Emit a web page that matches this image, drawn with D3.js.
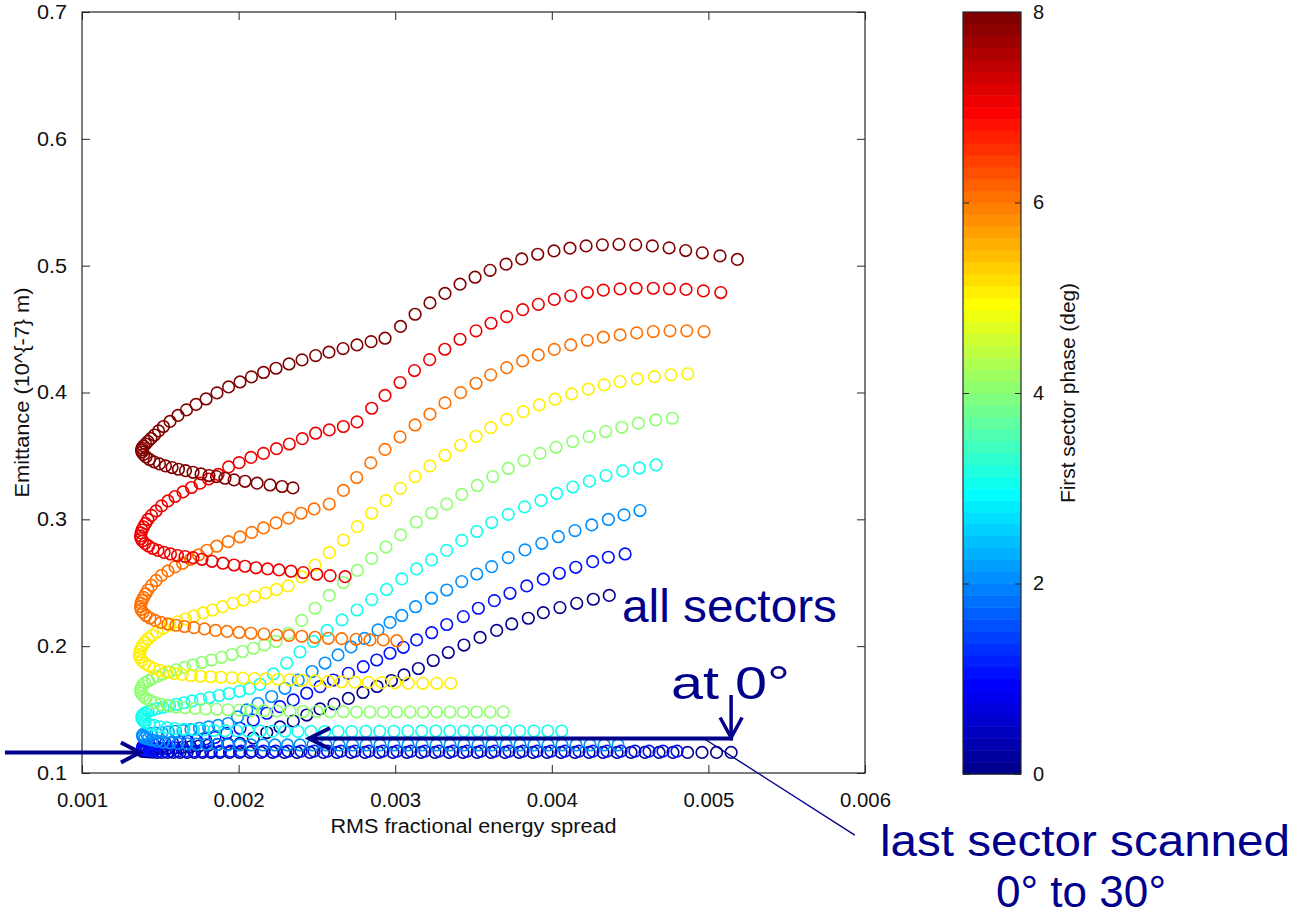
<!DOCTYPE html>
<html>
<head>
<meta charset="utf-8">
<script src="https://cdn.jsdelivr.net/npm/d3@7/dist/d3.min.js"></script>
<style>
  html, body { margin: 0; padding: 0; background: #fff; }
  svg { display: block; font-family: "Liberation Sans", Arial, Helvetica, sans-serif; }
</style>
</head>
<body>
<svg id="chart" width="1299" height="915"></svg>
<script>
// First sector phase (deg) for each scan of the last sector (0 to 30 deg).
const phases = [0, 1, 2, 3, 4, 5, 6, 7, 8];

// Scan points: [RMS fractional energy spread, emittance (1e-7 m)]
const scan0 = [
  [0.005145,0.1162],[0.005052,0.1162],[0.004959,0.1162],[0.004867,0.1162],[0.004774,0.1162],[0.004685,0.1162],
  [0.004595,0.1162],[0.004506,0.1162],[0.004417,0.1162],[0.004327,0.1162],[0.004238,0.1162],[0.004148,0.1162],
  [0.004059,0.1162],[0.003970,0.1162],[0.003880,0.1162],[0.003791,0.1162],[0.003701,0.1162],[0.003612,0.1162],
  [0.003523,0.1162],[0.003433,0.1162],[0.003344,0.1162],[0.003254,0.1162],[0.003165,0.1162],[0.003075,0.1162],
  [0.002986,0.1162],[0.002897,0.1162],[0.002807,0.1162],[0.002718,0.1162],[0.002628,0.1162],[0.002542,0.1162],
  [0.002456,0.1162],[0.002373,0.1162],[0.002293,0.1162],[0.002217,0.1162],[0.002143,0.1162],[0.002073,0.1162],
  [0.002006,0.1162],[0.001942,0.1162],[0.001881,0.1162],[0.001824,0.1162],[0.001770,0.1162],[0.001718,0.1162],
  [0.001671,0.1162],[0.001626,0.1162],[0.001584,0.1162],[0.001546,0.1162],[0.001511,0.1162],[0.001479,0.1162],
  [0.001450,0.1164],[0.001425,0.1166],[0.001406,0.1168],[0.001393,0.1170],
  [0.001383,0.1173],[0.001383,0.1177],[0.001393,0.1183],
  [0.001412,0.1185],[0.001437,0.1187],[0.001469,0.1189],[0.001508,0.1192],[0.001549,0.1195],[0.001594,0.1199],
  [0.001642,0.1203],[0.001693,0.1207],[0.001747,0.1213],[0.001805,0.1218],[0.001865,0.1225],[0.001932,0.1229],
  [0.002009,0.1233],[0.002094,0.1276],[0.002180,0.1319],[0.002264,0.1363],[0.002349,0.1410],[0.002435,0.1457],
  [0.002520,0.1505],[0.002609,0.1544],[0.002701,0.1588],[0.002794,0.1635],[0.002884,0.1682],[0.002976,0.1729],
  [0.003056,0.1773],[0.003148,0.1824],[0.003243,0.1887],[0.003339,0.1950],[0.003439,0.2009],[0.003542,0.2069],
  [0.003648,0.2124],[0.003744,0.2175],[0.003850,0.2220],[0.003946,0.2264],[0.004052,0.2304],[0.004159,0.2338],
  [0.004265,0.2370],[0.004367,0.2400]
];
const scan1 = [
  [0.004800,0.1172],[0.004710,0.1172],[0.004621,0.1172],[0.004531,0.1172],[0.004442,0.1172],[0.004353,0.1172],
  [0.004263,0.1172],[0.004174,0.1172],[0.004084,0.1172],[0.003995,0.1172],[0.003906,0.1172],[0.003816,0.1172],
  [0.003727,0.1172],[0.003637,0.1172],[0.003548,0.1172],[0.003459,0.1172],[0.003369,0.1172],[0.003280,0.1172],
  [0.003190,0.1172],[0.003101,0.1172],[0.003012,0.1172],[0.002922,0.1172],[0.002833,0.1172],[0.002743,0.1172],
  [0.002654,0.1172],[0.002568,0.1172],[0.002482,0.1172],[0.002399,0.1172],[0.002316,0.1172],[0.002236,0.1172],
  [0.002159,0.1172],[0.002086,0.1172],[0.002015,0.1172],[0.001948,0.1172],[0.001884,0.1172],[0.001824,0.1172],
  [0.001766,0.1172],[0.001712,0.1172],[0.001661,0.1172],[0.001613,0.1172],[0.001568,0.1172],[0.001530,0.1172],
  [0.001495,0.1172],[0.001463,0.1175],[0.001437,0.1178],[0.001415,0.1182],[0.001399,0.1187],
  [0.001390,0.1191],[0.001386,0.1201],[0.001390,0.1213],
  [0.001406,0.1218],[0.001428,0.1222],[0.001457,0.1226],[0.001492,0.1230],[0.001533,0.1234],[0.001578,0.1239],
  [0.001626,0.1244],[0.001677,0.1251],[0.001731,0.1259],[0.001789,0.1268],[0.001849,0.1280],[0.001924,0.1313],
  [0.002009,0.1353],[0.002094,0.1418],[0.002180,0.1471],[0.002264,0.1523],[0.002349,0.1576],[0.002435,0.1629],
  [0.002520,0.1681],[0.002605,0.1733],[0.002701,0.1786],[0.002796,0.1838],[0.002882,0.1891],[0.002967,0.1944],
  [0.003052,0.1991],[0.003137,0.2049],[0.003233,0.2106],[0.003329,0.2171],[0.003435,0.2233],[0.003531,0.2299],
  [0.003633,0.2359],[0.003733,0.2417],[0.003840,0.2475],[0.003946,0.2528],[0.004048,0.2575],[0.004153,0.2622],
  [0.004261,0.2666],[0.004361,0.2701],[0.004468,0.2727]
];
const scan2 = [
  [0.004423,0.1221],[0.004334,0.1221],[0.004244,0.1221],[0.004155,0.1221],[0.004065,0.1221],[0.003976,0.1221],
  [0.003886,0.1221],[0.003797,0.1221],[0.003708,0.1221],[0.003618,0.1221],[0.003529,0.1221],[0.003439,0.1221],
  [0.003350,0.1221],[0.003261,0.1221],[0.003171,0.1221],[0.003082,0.1221],[0.002992,0.1221],[0.002903,0.1221],
  [0.002814,0.1221],[0.002727,0.1221],[0.002641,0.1221],[0.002558,0.1221],[0.002475,0.1221],[0.002392,0.1221],
  [0.002312,0.1221],[0.002232,0.1221],[0.002156,0.1221],[0.002079,0.1221],[0.002006,0.1221],[0.001932,0.1222],
  [0.001862,0.1224],[0.001795,0.1226],[0.001731,0.1227],[0.001671,0.1230],[0.001613,0.1233],[0.001562,0.1238],
  [0.001517,0.1244],[0.001479,0.1252],[0.001447,0.1260],[0.001421,0.1268],
  [0.001402,0.1276],[0.001390,0.1284],[0.001386,0.1296],[0.001390,0.1304],
  [0.001415,0.1308],[0.001441,0.1311],[0.001473,0.1315],[0.001511,0.1319],[0.001552,0.1323],[0.001597,0.1329],
  [0.001645,0.1335],[0.001696,0.1343],[0.001750,0.1353],[0.001808,0.1363],[0.001869,0.1375],[0.001932,0.1390],
  [0.001993,0.1442],[0.002052,0.1497],[0.002124,0.1548],[0.002211,0.1603],[0.002296,0.1668],[0.002381,0.1733],
  [0.002469,0.1800],[0.002552,0.1867],[0.002635,0.1931],[0.002718,0.1994],[0.002804,0.2061],[0.002890,0.2128],
  [0.002967,0.2187],[0.003042,0.2242],[0.003130,0.2311],[0.003232,0.2378],[0.003329,0.2443],[0.003425,0.2509],
  [0.003521,0.2569],[0.003616,0.2627],[0.003722,0.2698],[0.003829,0.2759],[0.003936,0.2811],[0.004042,0.2863],
  [0.004148,0.2911],[0.004255,0.2956],[0.004361,0.2999],[0.004461,0.3035],[0.004563,0.3069]
];
const scan3 = [
  [0.004063,0.1331],[0.003974,0.1331],[0.003885,0.1331],[0.003795,0.1331],[0.003706,0.1331],[0.003616,0.1331],
  [0.003527,0.1331],[0.003438,0.1331],[0.003348,0.1331],[0.003259,0.1331],[0.003169,0.1331],[0.003080,0.1331],
  [0.002991,0.1329],[0.002901,0.1329],[0.002812,0.1329],[0.002722,0.1327],[0.002635,0.1327],[0.002549,0.1327],
  [0.002462,0.1327],[0.002379,0.1327],[0.002296,0.1329],[0.002217,0.1330],[0.002137,0.1331],[0.002060,0.1331],
  [0.001987,0.1333],[0.001913,0.1334],[0.001843,0.1336],[0.001776,0.1338],[0.001712,0.1341],[0.001651,0.1345],
  [0.001594,0.1350],[0.001543,0.1356],[0.001498,0.1364],[0.001460,0.1375],[0.001428,0.1386],[0.001402,0.1400],
  [0.001390,0.1414],[0.001383,0.1430],[0.001383,0.1446],[0.001390,0.1461],
  [0.001402,0.1473],[0.001421,0.1485],[0.001447,0.1497],[0.001479,0.1507],[0.001517,0.1518],[0.001559,0.1530],
  [0.001603,0.1542],[0.001651,0.1554],[0.001702,0.1568],[0.001757,0.1581],[0.001814,0.1595],[0.001875,0.1611],
  [0.001939,0.1627],[0.002006,0.1644],[0.002070,0.1665],[0.002137,0.1699],[0.002222,0.1781],[0.002307,0.1867],
  [0.002392,0.1954],[0.002477,0.2037],[0.002565,0.2124],[0.002660,0.2207],[0.002756,0.2285],[0.002850,0.2367],
  [0.002945,0.2447],[0.003042,0.2530],[0.003136,0.2609],[0.003232,0.2680],[0.003329,0.2755],[0.003425,0.2834],
  [0.003521,0.2904],[0.003616,0.2975],[0.003722,0.3039],[0.003826,0.3098],[0.003931,0.3149],[0.004031,0.3204],
  [0.004134,0.3255],[0.004240,0.3301],[0.004346,0.3345],[0.004453,0.3382],[0.004559,0.3405],[0.004666,0.3429]
];
const scan4 = [
  [0.003690,0.1481],[0.003606,0.1481],[0.003521,0.1481],[0.003435,0.1481],[0.003350,0.1481],[0.003265,0.1481],
  [0.003180,0.1481],[0.003095,0.1481],[0.003010,0.1481],[0.002924,0.1481],[0.002839,0.1481],[0.002754,0.1481],
  [0.002669,0.1483],[0.002584,0.1483],[0.002499,0.1485],[0.002413,0.1485],[0.002328,0.1487],[0.002245,0.1489],
  [0.002162,0.1491],[0.002082,0.1494],[0.002006,0.1496],[0.001932,0.1498],[0.001860,0.1502],[0.001789,0.1505],
  [0.001722,0.1509],[0.001658,0.1514],[0.001600,0.1520],[0.001549,0.1530],[0.001504,0.1542],[0.001466,0.1556],
  [0.001434,0.1572],[0.001409,0.1589],[0.001390,0.1609],
  [0.001377,0.1631],[0.001374,0.1651],[0.001377,0.1670],[0.001386,0.1690],
  [0.001402,0.1710],[0.001425,0.1727],[0.001450,0.1745],[0.001482,0.1763],[0.001517,0.1779],[0.001559,0.1796],
  [0.001603,0.1814],[0.001655,0.1832],[0.001709,0.1852],[0.001766,0.1871],[0.001827,0.1891],[0.001891,0.1912],
  [0.001958,0.1934],[0.002025,0.1958],[0.002095,0.1983],[0.002165,0.2009],[0.002239,0.2037],[0.002317,0.2102],
  [0.002403,0.2203],[0.002488,0.2299],[0.002579,0.2400],[0.002669,0.2502],[0.002758,0.2597],[0.002850,0.2692],
  [0.002941,0.2782],[0.003035,0.2877],[0.003135,0.2979],[0.003233,0.3050],[0.003329,0.3121],[0.003425,0.3196],
  [0.003524,0.3267],[0.003623,0.3337],[0.003722,0.3401],[0.003823,0.3463],[0.003925,0.3520],[0.004027,0.3568],
  [0.004134,0.3613],[0.004238,0.3652],[0.004344,0.3692],[0.004447,0.3726],[0.004553,0.3758],[0.004664,0.3784],
  [0.004770,0.3797]
];
const scan5 = [
  [0.003355,0.1707],[0.003265,0.1707],[0.003176,0.1707],[0.003084,0.1708],[0.002999,0.1711],[0.002914,0.1712],
  [0.002828,0.1714],[0.002743,0.1716],[0.002658,0.1719],[0.002573,0.1722],[0.002488,0.1726],[0.002405,0.1731],
  [0.002328,0.1735],[0.002252,0.1739],[0.002175,0.1743],[0.002102,0.1745],[0.002028,0.1748],[0.001958,0.1751],
  [0.001888,0.1755],[0.001821,0.1759],[0.001757,0.1763],[0.001696,0.1769],[0.001639,0.1777],[0.001588,0.1786],
  [0.001540,0.1796],[0.001498,0.1808],[0.001460,0.1824],[0.001428,0.1844],[0.001402,0.1864],[0.001383,0.1887],
  [0.001370,0.1911],[0.001367,0.1934],[0.001370,0.1958],[0.001377,0.1982],[0.001386,0.2005],
  [0.001402,0.2031],[0.001421,0.2057],[0.001447,0.2084],[0.001479,0.2112],[0.001517,0.2141],[0.001562,0.2167],
  [0.001610,0.2192],[0.001661,0.2214],[0.001715,0.2238],[0.001773,0.2262],[0.001833,0.2285],[0.001897,0.2311],
  [0.001964,0.2338],[0.002031,0.2364],[0.002102,0.2392],[0.002172,0.2419],[0.002242,0.2447],[0.002317,0.2475],
  [0.002403,0.2546],[0.002488,0.2640],[0.002579,0.2737],[0.002669,0.2837],[0.002758,0.2942],[0.002850,0.3048],
  [0.002941,0.3147],[0.003033,0.3244],[0.003127,0.3337],[0.003222,0.3421],[0.003318,0.3505],[0.003418,0.3584],
  [0.003516,0.3655],[0.003610,0.3723],[0.003712,0.3788],[0.003818,0.3849],[0.003920,0.3902],[0.004021,0.3947],
  [0.004127,0.3989],[0.004233,0.4026],[0.004334,0.4060],[0.004436,0.4086],[0.004546,0.4107],[0.004655,0.4125],
  [0.004761,0.4139],[0.004868,0.4147]
];
const scan6 = [
  [0.003010,0.2043],[0.002924,0.2049],[0.002839,0.2049],[0.002750,0.2054],[0.002658,0.2059],[0.002573,0.2062],
  [0.002488,0.2070],[0.002403,0.2078],[0.002322,0.2084],[0.002243,0.2088],[0.002162,0.2096],[0.002079,0.2102],
  [0.002003,0.2108],[0.001926,0.2116],[0.001853,0.2124],[0.001782,0.2136],[0.001715,0.2146],[0.001655,0.2155],
  [0.001600,0.2165],[0.001549,0.2175],[0.001504,0.2187],[0.001466,0.2203],[0.001434,0.2222],[0.001409,0.2242],
  [0.001390,0.2266],
  [0.001377,0.2289],[0.001374,0.2313],[0.001377,0.2337],[0.001383,0.2360],[0.001393,0.2384],[0.001406,0.2412],
  [0.001421,0.2443],[0.001444,0.2479],[0.001473,0.2518],[0.001508,0.2558],[0.001549,0.2593],[0.001594,0.2625],
  [0.001642,0.2654],[0.001693,0.2685],[0.001744,0.2719],[0.001798,0.2756],[0.001860,0.2788],[0.001934,0.2824],
  [0.002009,0.2861],[0.002084,0.2897],[0.002159,0.2932],[0.002239,0.2972],[0.002319,0.3009],[0.002399,0.3048],
  [0.002482,0.3082],[0.002579,0.3121],[0.002669,0.3228],[0.002754,0.3330],[0.002844,0.3445],[0.002935,0.3551],
  [0.003031,0.3650],[0.003127,0.3744],[0.003222,0.3829],[0.003318,0.3918],[0.003418,0.3999],[0.003516,0.4073],
  [0.003610,0.4139],[0.003712,0.4196],[0.003814,0.4249],[0.003914,0.4296],[0.004016,0.4340],[0.004121,0.4375],
  [0.004227,0.4411],[0.004329,0.4436],[0.004436,0.4454],[0.004542,0.4470],[0.004648,0.4480],[0.004755,0.4486],
  [0.004862,0.4486],[0.004972,0.4480]
];
const scan7 = [
  [0.002680,0.2548],[0.002584,0.2556],[0.002499,0.2567],[0.002413,0.2580],[0.002335,0.2591],[0.002258,0.2601],
  [0.002185,0.2609],[0.002111,0.2618],[0.002041,0.2630],[0.001971,0.2640],[0.001900,0.2654],[0.001830,0.2669],
  [0.001766,0.2685],[0.001709,0.2698],[0.001658,0.2707],[0.001610,0.2715],[0.001565,0.2727],[0.001524,0.2739],
  [0.001485,0.2755],[0.001453,0.2770],[0.001425,0.2790],[0.001402,0.2810],[0.001386,0.2830],
  [0.001377,0.2849],[0.001374,0.2869],[0.001377,0.2893],[0.001383,0.2916],[0.001393,0.2940],[0.001406,0.2968],
  [0.001421,0.2999],[0.001444,0.3031],[0.001473,0.3066],[0.001508,0.3106],[0.001549,0.3145],[0.001594,0.3180],
  [0.001645,0.3216],[0.001699,0.3251],[0.001754,0.3285],[0.001808,0.3318],[0.001869,0.3354],[0.001936,0.3413],
  [0.002003,0.3447],[0.002079,0.3488],[0.002159,0.3520],[0.002242,0.3557],[0.002324,0.3594],[0.002407,0.3636],
  [0.002492,0.3679],[0.002579,0.3705],[0.002669,0.3732],[0.002756,0.3768],[0.002850,0.3876],[0.002935,0.3977],
  [0.003031,0.4079],[0.003123,0.4173],[0.003220,0.4259],[0.003317,0.4341],[0.003414,0.4420],[0.003516,0.4486],
  [0.003612,0.4546],[0.003712,0.4598],[0.003814,0.4653],[0.003914,0.4695],[0.004016,0.4734],[0.004121,0.4762],
  [0.004227,0.4788],[0.004329,0.4807],[0.004436,0.4817],[0.004538,0.4822],[0.004648,0.4822],[0.004751,0.4818],
  [0.004857,0.4813],[0.004968,0.4801],[0.005079,0.4788]
];
const scan8 = [
  [0.002347,0.3248],[0.002277,0.3259],[0.002201,0.3271],[0.002118,0.3285],[0.002041,0.3300],[0.001971,0.3311],
  [0.001913,0.3324],[0.001859,0.3337],[0.001811,0.3345],[0.001760,0.3358],[0.001709,0.3371],[0.001661,0.3384],
  [0.001616,0.3395],[0.001575,0.3408],[0.001533,0.3421],[0.001495,0.3437],[0.001460,0.3453],[0.001431,0.3472],
  [0.001409,0.3492],[0.001393,0.3512],[0.001383,0.3531],
  [0.001380,0.3547],[0.001383,0.3563],[0.001393,0.3579],[0.001406,0.3594],[0.001421,0.3614],[0.001441,0.3638],
  [0.001463,0.3665],[0.001489,0.3697],[0.001520,0.3732],[0.001562,0.3772],[0.001613,0.3819],[0.001667,0.3863],
  [0.001728,0.3906],[0.001792,0.3949],[0.001862,0.3997],[0.001936,0.4044],[0.002009,0.4083],[0.002082,0.4123],
  [0.002159,0.4158],[0.002239,0.4191],[0.002322,0.4225],[0.002405,0.4257],[0.002492,0.4291],[0.002577,0.4318],
  [0.002667,0.4346],[0.002756,0.4375],[0.002846,0.4401],[0.002935,0.4428],[0.003034,0.4521],[0.003127,0.4617],
  [0.003222,0.4706],[0.003318,0.4781],[0.003414,0.4854],[0.003510,0.4909],[0.003606,0.4963],[0.003708,0.5012],
  [0.003808,0.5053],[0.003910,0.5090],[0.004014,0.5116],[0.004116,0.5138],[0.004219,0.5156],[0.004323,0.5164],
  [0.004429,0.5168],[0.004536,0.5164],[0.004642,0.5156],[0.004749,0.5140],[0.004855,0.5119],[0.004961,0.5101],
  [0.005074,0.5077],[0.005185,0.5049]
];
const scans = [scan0, scan1, scan2, scan3, scan4, scan5, scan6, scan7, scan8];

// Axis ticks
const xTicks = [0.001, 0.002, 0.003, 0.004, 0.005, 0.006];
const xTickLabels = ["0.001", "0.002", "0.003", "0.004", "0.005", "0.006"];
const yTicks = [0.1, 0.2, 0.3, 0.4, 0.5, 0.6, 0.7];
const yTickLabels = ["0.1", "0.2", "0.3", "0.4", "0.5", "0.6", "0.7"];
const cTicks = [0, 2, 4, 6, 8];
const cTickLabels = ["0", "2", "4", "6", "8"];

// Annotation anchors in data units
const startPoint = [0.001370, 0.1162];      // all sectors at 0 deg, end of the left arrow
const leftArrowTail = [0.000508, 0.1162];
const scanArrowTip = [0.002450, 0.1272];
const scanArrowTail = [0.005145, 0.1272];
const downArrowTop = 0.1615;
const leaderStart = [0.004966, 0.1276];
const leaderEnd = [0.005935, 0.0510];

// ---------------------------------------------------------------
const svg = d3.select("#chart");
const plot = { left: 82, right: 865, top: 12, bottom: 773 };
const cbar = { left: 963, right: 1021, top: 12, bottom: 774 };
const axisColor = "#262626";
const annColor = "#00008b";

const x = d3.scaleLinear().domain([0.001, 0.006]).range([plot.left, plot.right]);
const y = d3.scaleLinear().domain([0.1, 0.7]).range([plot.bottom, plot.top]);
const c = d3.scaleLinear().domain([0, 8]).range([cbar.bottom, cbar.top]);

// MATLAB-style jet colormap with 64 entries
const jet = (() => {
  const m = 64, n = Math.ceil(m / 4);
  const u = [];
  for (let i = 1; i <= n; i++) u.push(i / n);
  for (let i = 0; i < n - 1; i++) u.push(1);
  for (let i = n; i >= 1; i--) u.push(i / n);
  const off = Math.ceil(n / 2) - (m % 4 === 1 ? 1 : 0);
  const J = Array.from({ length: m }, () => [0, 0, 0]);
  u.forEach((v, k) => {
    const g = off + k + 1, r = g + n, b = g - n;
    if (g <= m) J[g - 1][1] = v;
    if (r <= m) J[r - 1][0] = v;
    if (b >= 1) J[b - 1][2] = v;
  });
  return J.map(([r, g, b]) => d3.rgb(Math.round(r * 255), Math.round(g * 255), Math.round(b * 255)).formatHex());
})();
const colorFor = p => jet[Math.max(0, Math.min(63, Math.floor(p / 8 * 64)))];

// ---- axes box and ticks
const fontSize = 20;
function styleAxis(g, showLabels) {
  g.attr("font-family", null).attr("font-size", null);
  g.select(".domain").remove();
  g.selectAll(".tick line").attr("stroke", axisColor).attr("stroke-width", 1);
  g.selectAll(".tick text")
    .style("font-size", fontSize + "px")
    .attr("fill", "#111")
    .style("display", showLabels ? null : "none");
}

svg.append("g").attr("transform", `translate(0,${plot.bottom})`)
  .call(d3.axisBottom(x).tickValues(xTicks).tickFormat((d, i) => xTickLabels[i])
    .tickSizeInner(-8).tickSizeOuter(0).tickPadding(20))
  .call(g => styleAxis(g, true))
  .call(g => g.selectAll(".tick text").attr("textLength", 51).attr("lengthAdjust", "spacingAndGlyphs"));
svg.append("g").attr("transform", `translate(0,${plot.top})`)
  .call(d3.axisTop(x).tickValues(xTicks).tickSizeInner(-8).tickSizeOuter(0))
  .call(g => styleAxis(g, false));
svg.append("g").attr("transform", `translate(${plot.left},0)`)
  .call(d3.axisLeft(y).tickValues(yTicks).tickFormat((d, i) => yTickLabels[i])
    .tickSizeInner(-8).tickSizeOuter(0).tickPadding(15))
  .call(g => styleAxis(g, true))
  .call(g => g.selectAll(".tick text").attr("textLength", 30).attr("lengthAdjust", "spacingAndGlyphs"));
svg.append("g").attr("transform", `translate(${plot.right},0)`)
  .call(d3.axisRight(y).tickValues(yTicks).tickSizeInner(-8).tickSizeOuter(0))
  .call(g => styleAxis(g, false));

svg.append("rect")
  .attr("x", plot.left).attr("y", plot.top)
  .attr("width", plot.right - plot.left).attr("height", plot.bottom - plot.top)
  .attr("fill", "none").attr("stroke", axisColor).attr("stroke-width", 1.2);

// axis titles
svg.append("text")
  .attr("x", (plot.left + plot.right) / 2).attr("y", 833)
  .attr("text-anchor", "middle").style("font-size", fontSize + "px").attr("fill", "#111")
  .attr("textLength", 286).attr("lengthAdjust", "spacingAndGlyphs")
  .text("RMS fractional energy spread");
svg.append("text")
  .attr("transform", `translate(29,${(plot.top + plot.bottom) / 2}) rotate(-90)`)
  .attr("text-anchor", "middle").style("font-size", fontSize + "px").attr("fill", "#111")
  .attr("textLength", 210).attr("lengthAdjust", "spacingAndGlyphs")
  .text("Emittance (10^{-7} m)");

// ---- scan points (hollow circles)
const gPts = svg.append("g");
phases.forEach((p, i) => {
  gPts.append("g")
    .attr("fill", "none")
    .attr("stroke", colorFor(p))
    .attr("stroke-width", 1.6)
    .selectAll("circle")
    .data(scans[i])
    .join("circle")
    .attr("cx", d => x(d[0]))
    .attr("cy", d => y(d[1]))
    .attr("r", 5.8);
});

// ---- colorbar
const bands = d3.range(64);
svg.append("g").selectAll("rect")
  .data(bands)
  .join("rect")
  .attr("x", cbar.left)
  .attr("y", i => c((i + 1) * 8 / 64))
  .attr("width", cbar.right - cbar.left)
  .attr("height", i => c(i * 8 / 64) - c((i + 1) * 8 / 64) + 0.5)
  .attr("fill", i => jet[i]);

svg.append("g").attr("transform", `translate(${cbar.right},0)`)
  .call(d3.axisRight(c).tickValues(cTicks).tickFormat((d, i) => cTickLabels[i])
    .tickSizeInner(-6).tickSizeOuter(0).tickPadding(12))
  .call(g => styleAxis(g, true));
svg.append("g").attr("transform", `translate(${cbar.left},0)`)
  .call(d3.axisLeft(c).tickValues(cTicks).tickSizeInner(-6).tickSizeOuter(0))
  .call(g => styleAxis(g, false));
svg.append("rect")
  .attr("x", cbar.left).attr("y", cbar.top)
  .attr("width", cbar.right - cbar.left).attr("height", cbar.bottom - cbar.top)
  .attr("fill", "none").attr("stroke", axisColor).attr("stroke-width", 1.2);
svg.append("text")
  .attr("transform", `translate(1075,${(cbar.top + cbar.bottom) / 2}) rotate(-90)`)
  .attr("text-anchor", "middle").style("font-size", fontSize + "px").attr("fill", "#111")
  .attr("textLength", 220).attr("lengthAdjust", "spacingAndGlyphs")
  .text("First sector phase (deg)");

// ---- annotations
const ann = svg.append("g").attr("stroke", annColor).attr("fill", "none");
const P = d => [x(d[0]), y(d[1])];

// left arrow into the curl where all sectors sit at 0 deg
{
  const [tx, ty] = P(startPoint), [sx] = P(leftArrowTail);
  ann.append("line").attr("x1", sx).attr("y1", ty).attr("x2", tx - 2).attr("y2", ty).attr("stroke-width", 4);
  ann.append("path").attr("d", `M${tx - 19},${ty - 10} L${tx},${ty} L${tx - 19},${ty + 10}`)
    .attr("stroke-width", 4).attr("stroke-linejoin", "miter");
}
// horizontal arrow following the last-sector scan
{
  const [tx, ty] = P(scanArrowTip), [ex] = P(scanArrowTail);
  ann.append("line").attr("x1", tx + 2).attr("y1", ty).attr("x2", ex + 2).attr("y2", ty).attr("stroke-width", 4);
  ann.append("path").attr("d", `M${tx + 21},${ty - 10.5} L${tx},${ty} L${tx + 21},${ty + 10.5}`)
    .attr("stroke-width", 4).attr("stroke-linejoin", "miter");
  const top = y(downArrowTop);
  ann.append("line").attr("x1", ex).attr("y1", top).attr("x2", ex).attr("y2", ty - 2).attr("stroke-width", 3.5);
  ann.append("path").attr("d", `M${ex - 11},${ty - 21} L${ex},${ty - 1} L${ex + 11},${ty - 21}`)
    .attr("stroke-width", 3.5).attr("stroke-linejoin", "miter");
}
// leader line to the scan label
{
  const [ax, ay] = P(leaderStart), [bx, by] = P(leaderEnd);
  ann.append("line").attr("x1", ax).attr("y1", ay).attr("x2", bx).attr("y2", by).attr("stroke-width", 1.4);
}

const annText = svg.append("g").attr("fill", annColor);
annText.append("text").style("font-size", "47px").attr("x", 622).attr("y", 622)
  .attr("textLength", 215).attr("lengthAdjust", "spacingAndGlyphs").text("all sectors");
annText.append("text").style("font-size", "47px").attr("x", 671).attr("y", 699)
  .attr("textLength", 119).attr("lengthAdjust", "spacingAndGlyphs").text("at 0°");
annText.append("text").style("font-size", "44px").attr("x", 880).attr("y", 856)
  .attr("textLength", 410).attr("lengthAdjust", "spacingAndGlyphs").text("last sector scanned");
annText.append("text").style("font-size", "44px").attr("x", 996).attr("y", 907)
  .attr("textLength", 170).attr("lengthAdjust", "spacingAndGlyphs").text("0° to 30°");
</script>
</body>
</html>
